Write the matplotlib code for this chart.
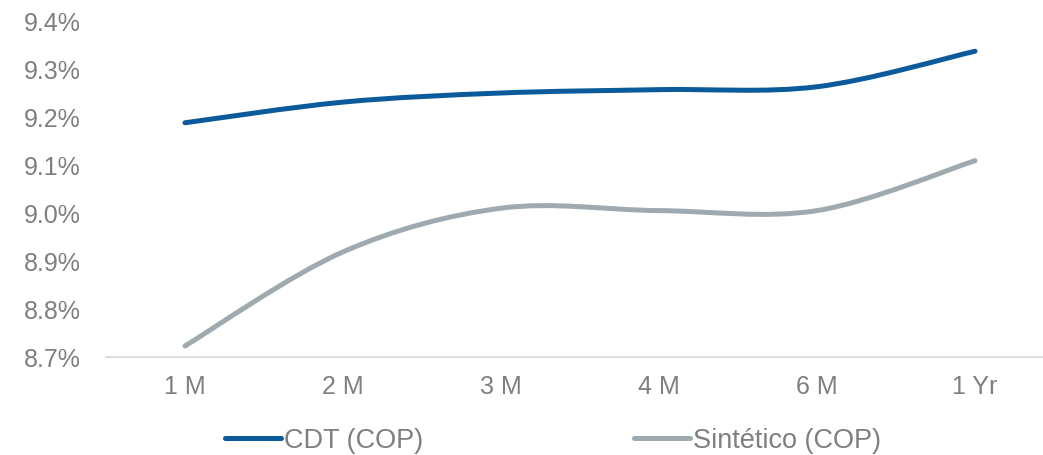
import numpy as np
import matplotlib
matplotlib.use("Agg")
import matplotlib.pyplot as plt
from matplotlib.path import Path
from matplotlib.patches import PathPatch
from matplotlib.lines import Line2D
from matplotlib.ticker import MultipleLocator, FuncFormatter

# data (in %)
tenors = ["1 M", "2 M", "3 M", "4 M", "6 M", "1 Yr"]
cdt = [9.188, 9.231, 9.250, 9.257, 9.263, 9.337]
sintetico = [8.723, 8.919, 9.010, 9.005, 9.005, 9.109]

blue = "#0B5A9B"
grey = "#9EAAB0"
txt = "#7F7F7F"

plt.rcParams["font.family"] = ["Liberation Sans", "DejaVu Sans"]


def smooth_path(y):
    # excel-like smoothed line: catmull-rom segments as cubic beziers
    pts = np.column_stack([np.arange(len(y)), y])
    ext = np.vstack([pts[0], pts, pts[-1]])
    verts = [pts[0]]
    codes = [Path.MOVETO]
    for i in range(len(pts) - 1):
        p0, p1, p2, p3 = ext[i], ext[i + 1], ext[i + 2], ext[i + 3]
        verts += [p1 + (p2 - p0) / 6, p2 - (p3 - p1) / 6, p2]
        codes += [Path.CURVE4] * 3
    return Path(verts, codes)


fig = plt.figure(figsize=(10.43, 4.56), dpi=100)
ax = fig.add_axes([106 / 1043, 1 - 358 / 456, 948 / 1043, 336 / 456])

for vals, col in [(cdt, blue), (sintetico, grey)]:
    patch = PathPatch(smooth_path(vals), fill=False, edgecolor=col, lw=3.6,
                      capstyle="round", joinstyle="round", clip_on=False)
    ax.add_patch(patch)

ax.set_xlim(-0.5, len(tenors) - 0.5)
ax.set_ylim(8.7, 9.4)
ax.set_xticks(range(len(tenors)))
ax.set_xticklabels(tenors)
ax.yaxis.set_major_locator(MultipleLocator(0.1))
ax.yaxis.set_major_formatter(FuncFormatter(lambda v, p: f"{v:.1f}%"))

for s in ["top", "right", "left"]:
    ax.spines[s].set_visible(False)
ax.spines["bottom"].set_color("#D9D9D9")
ax.spines["bottom"].set_linewidth(1.3)
ax.tick_params(axis="both", length=0, labelsize=18, colors=txt)
ax.tick_params(axis="y", pad=18)
ax.tick_params(axis="x", pad=12)

handles = [Line2D([], [], color=blue, lw=3.6, solid_capstyle="round"),
           Line2D([], [], color=grey, lw=3.6, solid_capstyle="round")]
fig.legend(handles, ["CDT (COP)", "Sintético (COP)"], loc="center",
           bbox_to_anchor=(553 / 1043, 1 - 441 / 456), ncol=2, frameon=False,
           fontsize=19.5, labelcolor=txt, handlelength=2.07, handletextpad=0.11,
           columnspacing=7.8, borderaxespad=0)

fig.savefig("out.png", dpi=100)
